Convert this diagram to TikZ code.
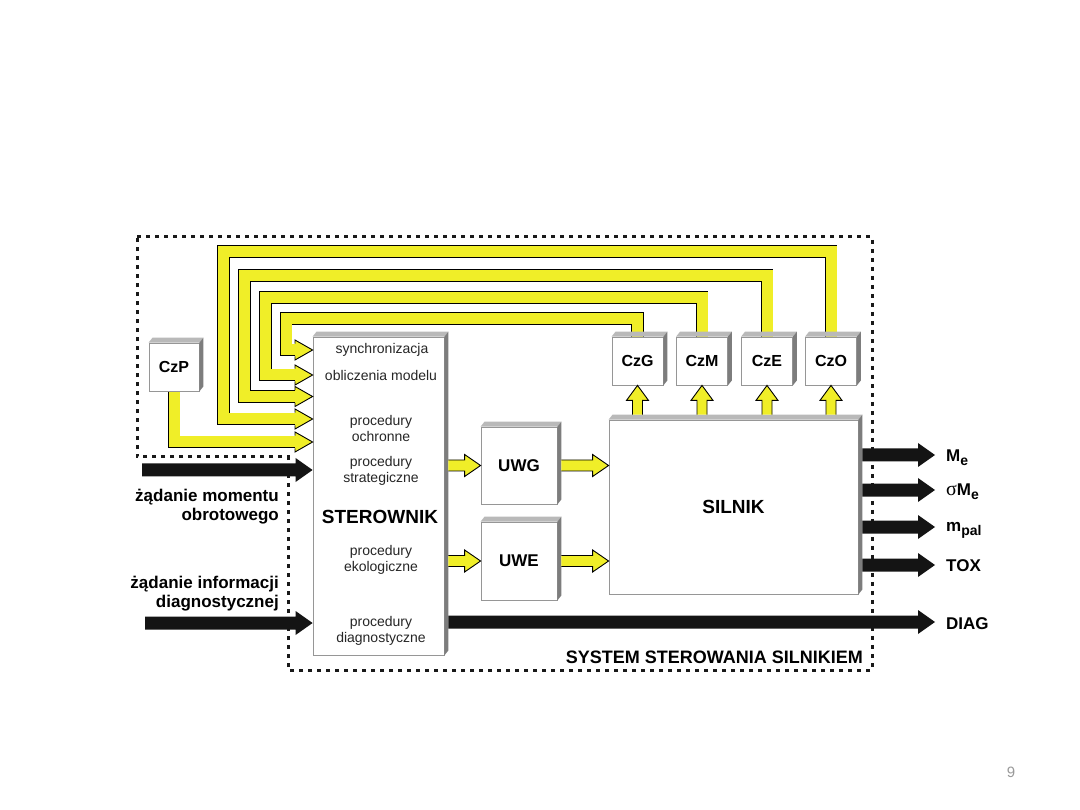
\documentclass[tikz,border=0pt]{standalone}
\usepackage{fontspec}
\setmainfont{Liberation Sans}
\newfontfamily\serifsym{Liberation Serif}
\usetikzlibrary{calc}
\definecolor{yel}{RGB}{240,238,40}
\definecolor{topf}{RGB}{185,185,185}
\definecolor{sidef}{RGB}{125,125,125}
\definecolor{edgec}{RGB}{150,150,150}
\pgfdeclarelayer{bg}
\pgfsetlayers{bg,main}
\newcommand\cubefaces[1]{%
  \fill[topf] (#1.north west) -- ++(4,-5) -- ($(#1.north east)+(4,-5)$) -- (#1.north east) -- cycle;
  \fill[sidef] (#1.north east) -- ++(4,-5) -- ($(#1.south east)+(4,-5)$) -- (#1.south east) -- cycle;}
\begin{document}
\begin{tikzpicture}[x=1pt,y=-1pt,
  box/.style={draw=edgec, fill=white, line width=0.8pt, inner sep=0pt},
  czbox/.style={box, minimum width=51pt, minimum height=48pt, font=\fontsize{16}{18}\selectfont\bfseries},
  uwbox/.style={box, minimum width=76pt, minimum height=77pt, font=\fontsize{17}{19}\selectfont\bfseries},
  smalltext/.style={font=\fontsize{14}{16}\selectfont, align=center, inner sep=0pt, text=black!85},
  labeltext/.style={font=\fontsize{17}{19}\selectfont\bfseries, align=right, inner sep=0pt, anchor=east},
  outlabel/.style={font=\fontsize{17}{19}\selectfont\bfseries, inner sep=0pt, anchor=base west},
  border/.style={line width=3pt, dash pattern=on 4pt off 5pt, draw=black!90},
  pipe/.style={draw=black, line width=0.9pt, double=yel, double distance=11pt, line join=miter},
  yhead/.style={fill=yel, draw=black, line width=0.9pt, line join=miter,
    to path={($(\tikztostart)+(0,-6.4)$) -- ($(\tikztostart)+(0,-10)$) -- (\tikztotarget) -- ($(\tikztostart)+(0,10)$) -- ($(\tikztostart)+(0,6.4)$)}},
  yarr/.style={fill=yel, draw=black, line width=0.9pt, line join=miter,
    to path={($(\tikztostart)+(0,-5.5)$) -- ($(\tikztotarget)+(-16,-5.5)$) -- ($(\tikztotarget)+(-16,-11)$) -- (\tikztotarget) -- ($(\tikztotarget)+(-16,11)$) -- ($(\tikztotarget)+(-16,5.5)$) -- ($(\tikztostart)+(0,5.5)$)}},
  yup/.style={fill=yel, draw=black, line width=0.9pt, line join=miter,
    to path={($(\tikztostart)+(-5,0)$) -- ($(\tikztotarget)+(-5,15)$) -- ($(\tikztotarget)+(-11,15)$) -- (\tikztotarget) -- ($(\tikztotarget)+(11,15)$) -- ($(\tikztotarget)+(5,15)$) -- ($(\tikztostart)+(5,0)$)}},
  barr/.style={fill=black!92,
    to path={($(\tikztostart)+(0,-6.5)$) -- ($(\tikztotarget)+(-17,-6.5)$) -- ($(\tikztotarget)+(-17,-12)$) -- (\tikztotarget) -- ($(\tikztotarget)+(-17,12)$) -- ($(\tikztotarget)+(-17,6.5)$) -- ($(\tikztostart)+(0,6.5)$) -- cycle}},
]
\begin{pgfonlayer}{bg}
  \fill[white] (0,0) rectangle (1080,810);
\end{pgfonlayer}
\useasboundingbox (0,0) rectangle (1080,810);

% boxes
\node[box, minimum width=131pt, minimum height=318pt] (ster) at (378.5,496) {};
\node[czbox, minimum width=50pt] (czp) at (174,367) {CzP};
\node[czbox] (czg) at (637.5,361) {CzG};
\node[czbox] (czm) at (702,361) {CzM};
\node[czbox] (cze) at (767,361) {CzE};
\node[czbox] (czo) at (831,361) {CzO};
\node[uwbox] (uwg) at (519,465.5) {UWG};
\node[uwbox, minimum height=78pt] (uwe) at (519,561) {UWE};
\node[box, minimum width=249pt, minimum height=174pt, font=\fontsize{19}{21}\selectfont\bfseries] (silnik) at (733.5,507) {SILNIK};
\foreach \n in {ster,czp,czg,czm,cze,czo,uwg,uwe,silnik} {\cubefaces{\n}}

% texts in the controller
\node[smalltext] (t1) at (382,350) {synchronizacja};
\node[smalltext] (t2) at (381,375) {obliczenia modelu};
\node[smalltext] (t3) at (381,428) {procedury\\ochronne};
\node[smalltext] (t4) at (381,471) {procedury\\strategiczne};
\node[font=\fontsize{19}{21}\selectfont\bfseries, inner sep=0pt] (t5) at (380,517) {STEROWNIK};
\node[smalltext] (t6) at (381,560) {procedury\\ekologiczne};
\node[smalltext] (t7) at (381,631) {procedury\\diagnostyczne};

% border and pipes
\begin{pgfonlayer}{bg}
  \draw[border] (137,237) -- (872,237) -- (872,670) -- (288,670) -- (288,457) -- (137,457) -- cycle;
  \draw[pipe] (czo.north) |- (223.5,251.5) |- (296,419);
  \draw[pipe] (cze.north) |- (244.5,275.5) |- (296,396.5);
  \draw[pipe] (czm.north) |- (265.5,297.5) |- (296,375);
  \draw[pipe] (czg.north) |- (286,318.5) |- (296,350);
  \draw[pipe] (czp.south) |- (296,442);
\end{pgfonlayer}
\foreach \yy in {419,396.5,375,350,442} {
  \coordinate (hb) at (295,\yy);
  \path[yhead] (hb) to (ster.west |- hb);
}

% up arrows from engine
\foreach \c in {czg,czm,cze,czo} {
  \coordinate (u\c) at ($(\c.south |- silnik.north)+(0,-5)$);
  \path[yup] (u\c) to (\c.south);
}

% yellow arrows through UWG / UWE
\coordinate (s1) at ($(ster.east |- uwg.west)+(4,0)$);
\path[yarr] (s1) to (uwg.west);
\coordinate (s2) at ($(uwg.east)+(4,0)$);
\path[yarr] (s2) to (uwg.east -| silnik.west);
\coordinate (s3) at ($(ster.east |- uwe.west)+(4,0)$);
\path[yarr] (s3) to (uwe.west);
\coordinate (s4) at ($(uwe.east)+(4,0)$);
\path[yarr] (s4) to (uwe.east -| silnik.west);

% black input arrows
\coordinate (in1) at (142,470);
\path[barr] (in1) to (ster.west |- in1);
\coordinate (in2) at (145,623);
\path[barr] (in2) to (ster.west |- in2);

% black output arrows
\foreach \yy/\n in {455/me,490/sme,527/mpal,565/tox} {
  \coordinate (o\n) at (935,\yy);
  \coordinate (b\n) at ($(silnik.east |- o\n)+(4,0)$);
  \path[barr] (b\n) to (o\n);
}
\coordinate (odiag) at (935,622);
\coordinate (d0) at ($(ster.east |- odiag)+(4,0)$);
\path[barr] (d0) to (odiag);

% labels
\node[labeltext] (l1) at (279,507) {żądanie momentu\\obrotowego};
\node[labeltext] (l2) at (279,594) {żądanie informacji\\diagnostycznej};
\node[outlabel] (lme) at (946,461) {M\raisebox{-4pt}{\fontsize{14}{14}\selectfont e}};
\node[outlabel] (lsme) at (946,496) {{\serifsym\mdseries\fontsize{20}{20}\selectfont σ}M\raisebox{-4pt}{\fontsize{14}{14}\selectfont e}};
\node[outlabel] (lmpal) at (946,531) {m\raisebox{-4pt}{\fontsize{14}{14}\selectfont pal}};
\node[outlabel] (ltox) at (946,571) {TOX};
\node[outlabel] (ldiag) at (946,629) {DIAG};
\node[font=\fontsize{18}{20}\selectfont\bfseries, anchor=base east, inner sep=0pt] (title) at (863,663) {SYSTEM STEROWANIA SILNIKIEM};
\node[font=\fontsize{15}{15}\selectfont, text=black!40, inner sep=0pt] (pg) at (1011,772) {9};
\end{tikzpicture}
\end{document}
